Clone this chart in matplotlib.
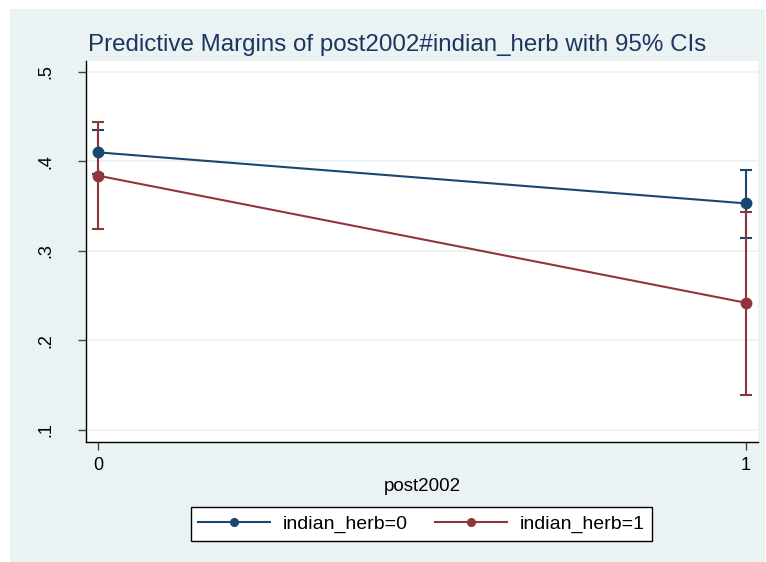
import matplotlib
matplotlib.use("Agg")
import matplotlib.pyplot as plt
from matplotlib.patches import Rectangle
from matplotlib.lines import Line2D

plt.rcParams['font.family'] = ['Liberation Sans', 'DejaVu Sans']

# Data
x_vals = [0, 1]
x_ticklabels = ["0", "1"]
y_ticks = [0.1, 0.2, 0.3, 0.4, 0.5]
y_ticklabels = [".1", ".2", ".3", ".4", ".5"]
series_names = ["indian_herb=0", "indian_herb=1"]
margin0 = [0.410, 0.353]
lo0 = [0.386, 0.314]
hi0 = [0.435, 0.390]
margin1 = [0.384, 0.242]
lo1 = [0.324, 0.139]
hi1 = [0.444, 0.343]

W, H = 766, 562
fig = plt.figure(figsize=(W / 100, H / 100), dpi=100)
fig.patch.set_facecolor("white")
bg = Rectangle((10 / W, 0), (765 - 10) / W, 1 - 9 / H, transform=fig.transFigure,
               facecolor="#eaf2f3", edgecolor="none", zorder=-10)
fig.patches.append(bg)

ax = fig.add_axes([86 / W, 1 - 442 / H, (758 - 86) / W, (442 - 61) / H])
ax.set_zorder(5)
ax.set_facecolor("white")

blue = "#1a476f"
red = "#90353b"

for m, lo, hi, c in [(margin0, lo0, hi0, blue), (margin1, lo1, hi1, red)]:
    yerr = [[mm - l for mm, l in zip(m, lo)], [h - mm for mm, h in zip(m, hi)]]
    ax.errorbar(x_vals, m, yerr=yerr, fmt="none", ecolor=c, elinewidth=1.5,
                capsize=4, capthick=1.5, zorder=3)
for m, c in [(margin0, blue), (margin1, red)]:
    ax.plot(x_vals, m, color=c, lw=1.5, marker="o", markersize=7.5, zorder=4)

ax.set_xlim(-0.0185, 1.0185)
ax.set_ylim(0.0866, 0.512)
ax.set_yticks(y_ticks)
ax.set_yticklabels(y_ticklabels, rotation=90, va="center", fontsize=13)
ax.set_xticks(x_vals)
ax.set_xticklabels(x_ticklabels, fontsize=13)
ax.tick_params(axis="both", direction="out", length=6, width=1, color="#444444",
               labelcolor="black")
ax.tick_params(axis="y", pad=17)
ax.tick_params(axis="x", pad=5)
ax.yaxis.grid(True, color="#eaf2f3", lw=1.2)
ax.set_axisbelow(True)
for s in ["top", "right"]:
    ax.spines[s].set_visible(False)
for s in ["left", "bottom"]:
    ax.spines[s].set_color("black")
    ax.spines[s].set_linewidth(1)

ax.set_xlabel("post2002", fontsize=13.5, labelpad=3)
fig.text(88 / W, 1 - 45 / H, "Predictive Margins of post2002#indian_herb with 95% CIs",
         fontsize=17.4, color="#1e3560", va="center", ha="left")

handles = [Line2D([0], [0], color=blue, lw=1.5, marker="o", markersize=5.5),
           Line2D([0], [0], color=red, lw=1.5, marker="o", markersize=5.5)]
leg = fig.legend(handles, series_names, loc="center", bbox_to_anchor=(421.5 / W, 1 - 524 / H),
                 ncol=2, fontsize=14, frameon=True, fancybox=False, handlelength=3.7,
                 handletextpad=0.62, columnspacing=1.44, borderpad=0.4, borderaxespad=0)
leg.get_frame().set_edgecolor("black")
leg.get_frame().set_linewidth(1)
leg.get_frame().set_facecolor("white")
leg.get_frame().set_alpha(1)

fig.savefig("out.png", dpi=100, facecolor=fig.get_facecolor())
